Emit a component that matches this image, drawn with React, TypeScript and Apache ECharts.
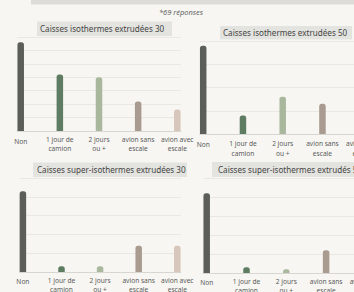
import React, { useEffect, useRef } from "react";
import * as echarts from "echarts";

const categories = ["Non", "1 jour de\ncamion", "2 jours\nou +", "avion sans\nescale", "avion avec\nescale"];
const iso30 = [33, 21, 20, 11, 8];
const iso50 = [38, 8, 16, 13, 10];
const superIso30 = [43, 3, 3, 14, 14];
const superIso50 = [42, 3, 2, 12, 12];
const panelTitles = [
  "Caisses isothermes extrudées 30",
  "Caisses isothermes extrudées 50",
  "Caisses super-isothermes extrudées 30",
  "Caisses super-isothermes extrudés 50",
];
const axisMax = [35, 40, 50, 50];
const axisStep = [5, 10, 10, 10];
const subtitle = "*69 réponses";
const barColors = ["#5b5e59", "#5e7c62", "#a9b89d", "#a99b90", "#d6c7ba"];

const FONT = "'Noto Sans', sans-serif";
const W = 354;
const H = 292;

// layout only
const layout = [
  { barLeft: 20.7, step: 39.15, top: 37, bottom: 131, box: [37, 21.5, 135, 14.5], textX: 40, margin: 3.5, nonPad: 5 },
  { barLeft: 203.2, step: 39.75, top: 41, bottom: 134, box: [220, 26, 132, 13.5], textX: 223, margin: 5.3, nonPad: 1 },
  { barLeft: 22.9, step: 38.6, top: 178, bottom: 272, box: [33, 162.5, 154, 14.5], textX: 37, margin: 3.5, nonPad: 3.3 },
  { barLeft: 206.7, step: 39.8, top: 178, bottom: 273, box: [212, 162, 150, 15], textX: 218, margin: 4, nonPad: 1.3 },
];

export default function App() {
  const ref = useRef<HTMLDivElement>(null);
  useEffect(() => {
    const chart = echarts.init(ref.current!, null, { renderer: "svg" });
    const datasets = [iso30, iso50, superIso30, superIso50];
    const grid: any[] = [];
    const xAxis: any[] = [];
    const yAxis: any[] = [];
    const series: any[] = [];
    const graphic: any[] = [
      { type: "rect", shape: { x: 31, y: -10, width: 340, height: 14.5 }, style: { fill: "#dcdcd8" } },
      {
        type: "text",
        x: 181,
        y: 11.5,
        style: { text: subtitle, fontSize: 7.5, fontStyle: "italic", fontFamily: FONT, fill: "#666", align: "center", verticalAlign: "middle" },
      },
    ];
    layout.forEach((p, k) => {
      const lineLeft = p.barLeft - 3.5;
      const lineRight = p.barLeft + p.step * 4 + 3.5;
      const barRight = p.barLeft + p.step * 4;
      grid.push({ left: lineLeft, right: W - lineRight, top: p.top, bottom: H - p.bottom, outerBoundsMode: "none", containLabel: false });
      grid.push({ left: p.barLeft, right: W - barRight, top: p.top, bottom: H - p.bottom, outerBoundsMode: "none", containLabel: false });
      xAxis.push({
        type: "value", gridIndex: 2 * k, min: 0, max: 1,
        axisLine: { show: true, lineStyle: { color: "#d8d6d0", width: 1 } },
        axisLabel: { show: false }, axisTick: { show: false }, splitLine: { show: false },
      });
      yAxis.push({
        type: "value", gridIndex: 2 * k, min: 0, max: axisMax[k], interval: axisStep[k],
        splitLine: { show: true, lineStyle: { color: "#eae8e3", width: 1 } },
        axisLabel: { show: false }, axisLine: { show: false }, axisTick: { show: false },
      });
      xAxis.push({
        type: "category", gridIndex: 2 * k + 1, data: categories, boundaryGap: false,
        axisLine: { show: false }, axisTick: { show: false }, splitLine: { show: false },
        axisLabel: {
          interval: 0, margin: p.margin, fontSize: 6.6, lineHeight: 9.3, fontFamily: FONT, color: "#5a5a5a",
          verticalAlign: "top", align: "center", hideOverlap: false,
          formatter: (v: string) => (v === "Non" ? `{n|${v}}` : v),
          rich: { n: { fontSize: 6.6, lineHeight: 9.3, fontFamily: FONT, color: "#5a5a5a", padding: [p.nonPad, 0, 0, 0] } },
        },
      });
      yAxis.push({ type: "value", gridIndex: 2 * k + 1, min: 0, max: axisMax[k], show: false });
      series.push({
        type: "bar", xAxisIndex: 2 * k + 1, yAxisIndex: 2 * k + 1, barWidth: 6.5, clip: false,
        data: datasets[k].map((v, i) => ({ value: v, itemStyle: { color: barColors[i], borderRadius: [2.5, 2.5, 0, 0] } })),
      });
      const [bx, by, bw, bh] = p.box;
      graphic.push({ type: "rect", shape: { x: bx, y: by, width: bw, height: bh }, style: { fill: "#e3e3df" } });
      graphic.push({
        type: "text", x: p.textX, y: by + bh / 2,
        style: { text: panelTitles[k], fontSize: 8.1, fontFamily: FONT, fill: "#454545", align: "left", verticalAlign: "middle" },
      });
    });
    chart.setOption({
      animation: false,
      backgroundColor: "#f7f6f2",
      grid, xAxis, yAxis, series, graphic,
    });
    return () => chart.dispose();
  }, []);
  return <div ref={ref} style={{ position: "fixed", left: 0, top: 0, width: W, height: H }} />;
}
